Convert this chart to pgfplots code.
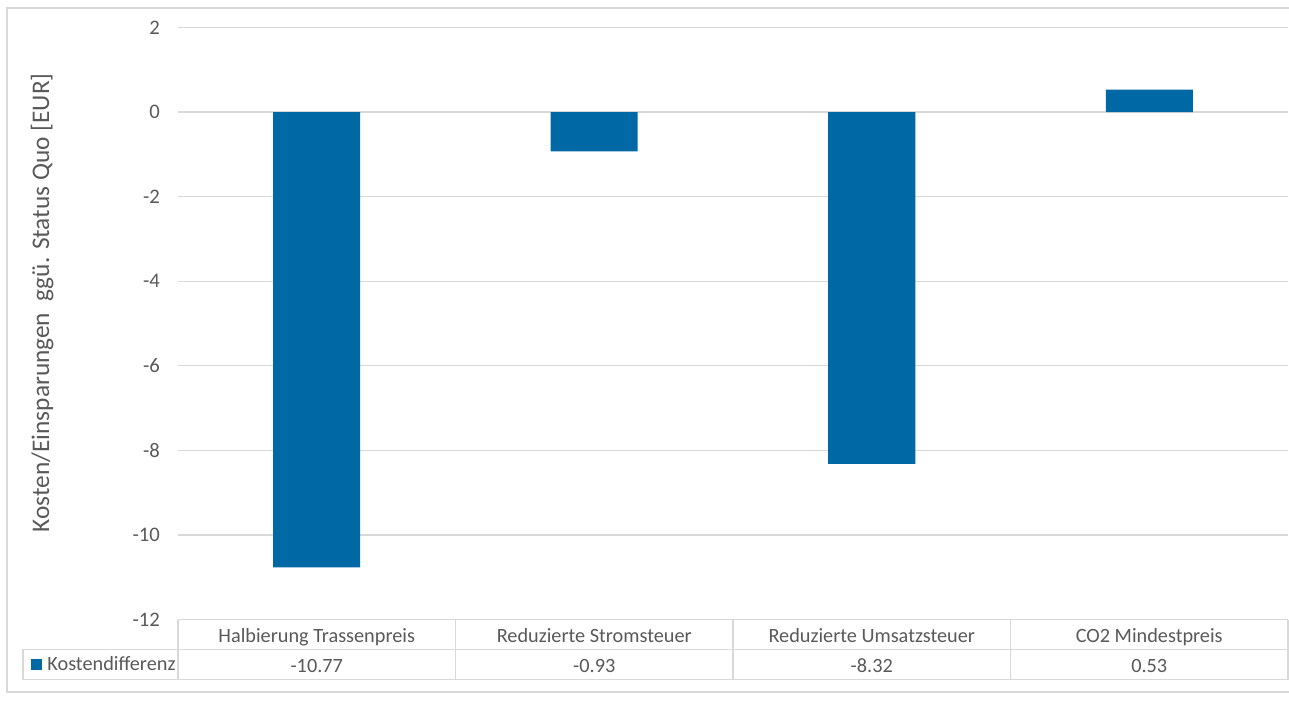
\documentclass[border=0pt]{standalone}
\usepackage{pgfplots}
\pgfplotsset{compat=1.18}
\usepackage{pgfplotstable}
\usepackage{fontspec}
\setmainfont{Carlito}

\definecolor{barblue}{HTML}{0068A5}
\definecolor{txtgray}{HTML}{595959}
\definecolor{gridgray}{HTML}{D9D9D9}

\pgfplotstableread{
idx value
0   -10.77
1   -0.93
2   -8.32
3   0.53
}\costdata

\begin{document}
\begin{tikzpicture}
\useasboundingbox (-133.5pt,-60.375pt) rectangle (833.25pt,464.625pt);
% chart frame
\draw[gridgray, line width=0.9pt] (834.5pt,458.6pt) -- (-128.25pt,458.6pt) -- (-128.25pt,-54.4pt) -- (834.5pt,-54.4pt);
\begin{axis}[
  at={(0,0)}, anchor=south west,
  scale only axis,
  width=832.5pt, height=444pt,
  xmin=-0.5, xmax=3.5,
  ymin=-12, ymax=2,
  ytick={-12,-10,...,2},
  xtick={0,1,2,3},
  xticklabels={Halbierung Trassenpreis, Reduzierte Stromsteuer, Reduzierte Umsatzsteuer, CO2 Mindestpreis},
  xticklabel style={anchor=base, yshift=-17.25pt, font=\fontsize{15.2pt}{17pt}\selectfont, text=txtgray},
  yticklabel style={font=\fontsize{15.5pt}{17pt}\selectfont, text=txtgray, xshift=-10pt},
  /pgf/number format/assume math mode=true,
  axis line style={draw=none},
  major tick length=0pt,
  ymajorgrids,
  grid style={gridgray, line width=0.9pt},
  ylabel={Kosten/Einsparungen\ \ ggü. Status Quo [EUR]},
  ylabel style={font=\fontsize{19pt}{22pt}\selectfont, text=txtgray,
    at={(axis description cs:-0.1225,0.535)}, anchor=center},
  ybar, bar width=65.25pt,
  clip=false,
  legend style={draw=none, fill=none, at={(axis description cs:-0.1366,-0.076)}, anchor=west,
    font=\fontsize{15.2pt}{17pt}\selectfont, text=txtgray},
  legend image code/.code={\fill[barblue] (0pt,-4.3pt) rectangle (8.6pt,4.3pt); \path (10.6pt,0pt);},
]
\addplot[fill=barblue, draw=none] table[x=idx, y=value] {\costdata};
\addlegendentry{Kostendifferenz}

% value row of the data table, printed from the same numbers
\addplot[draw=none, fill=none, mark=none, forget plot, bar shift=0pt,
  nodes near coords,
  point meta=explicit,
  nodes near coords style={anchor=base, yshift=-39.9pt, text=txtgray,
    font=\fontsize{15.2pt}{17pt}\selectfont,
    /pgf/number format/.cd, fixed, fixed zerofill, precision=2, assume math mode=true},
] table[x=idx, y expr=-12, meta=value] {\costdata};

% data table grid below the plot area
\draw[gridgray, line width=0.9pt]
  (axis cs:3.5,-12) -- ([yshift=-45pt]axis cs:3.5,-12)
  -- ([xshift=-116.25pt,yshift=-45pt]axis cs:-0.5,-12)
  -- ([xshift=-116.25pt,yshift=-22.5pt]axis cs:-0.5,-12)
  -- ([yshift=-22.5pt]axis cs:3.5,-12);
\draw[gridgray, line width=0.9pt] (axis cs:-0.5,-12) -- ([yshift=-45pt]axis cs:-0.5,-12);
\draw[gridgray, line width=0.9pt] (axis cs:0.5,-12) -- ([yshift=-45pt]axis cs:0.5,-12);
\draw[gridgray, line width=0.9pt] (axis cs:1.5,-12) -- ([yshift=-45pt]axis cs:1.5,-12);
\draw[gridgray, line width=0.9pt] (axis cs:2.5,-12) -- ([yshift=-45pt]axis cs:2.5,-12);
\end{axis}
\end{tikzpicture}
\end{document}
